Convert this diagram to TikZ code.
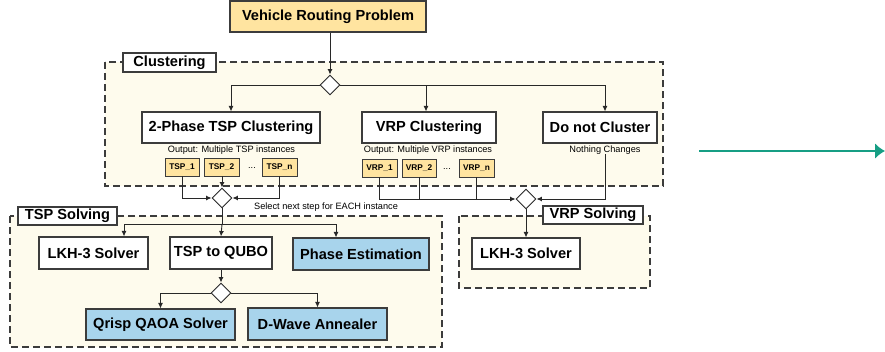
\documentclass[tikz,border=0pt]{standalone}
\usepackage{fontspec}
\setmainfont{Liberation Sans}
\usetikzlibrary{arrows.meta,calc,shapes.geometric}
\definecolor{boxline}{RGB}{60,60,60}
\definecolor{wireline}{RGB}{40,40,40}
\definecolor{vrpyellow}{RGB}{255,228,160}
\definecolor{qblue}{RGB}{168,212,236}
\definecolor{cream}{RGB}{254,251,237}
\definecolor{arrowteal}{RGB}{22,158,132}
\newcommand{\boxfont}{\fontsize{14.6}{17}\selectfont\bfseries}
\newcommand{\notefont}{\fontsize{9.2}{11}\selectfont}
\newcommand{\instfont}{\fontsize{8.3}{10}\selectfont\bfseries}
\tikzset{
  box/.style={draw=boxline, line width=1.1pt, fill=white, inner sep=0pt, minimum height=31pt, font=\boxfont},
  yelbox/.style={box, fill=vrpyellow},
  bluebox/.style={box, fill=qblue},
  tag/.style={draw=boxline, line width=1.1pt, fill=white, inner sep=0pt, minimum height=18pt, font=\boxfont},
  inst/.style={draw=boxline, line width=0.9pt, fill=vrpyellow, inner sep=0pt, minimum width=35pt, minimum height=18pt, font=\instfont},
  note/.style={inner sep=0pt, font=\notefont},
  region/.style={draw=boxline, line width=1.1pt, dash pattern=on 7pt off 4pt, fill=cream},
  choice/.style={diamond, draw=wireline, line width=0.9pt, fill=white, inner sep=0pt, minimum width=20pt, minimum height=20pt},
  wire/.style={draw=wireline, line width=0.9pt},
  >={Latex[length=5.5pt,width=5pt]}
}
\begin{document}
\begin{tikzpicture}[x=1pt,y=-1pt]
\useasboundingbox (0,0) rectangle (885,351);
\draw[region] (105,62) rectangle (663,186);
\draw[region] (10,216) rectangle (442,347);
\draw[region] (459,216) rectangle (650,288);

\node[yelbox, minimum width=196pt] (vrp) at (328,16.5) {Vehicle Routing Problem};
\node[tag, minimum width=93pt, minimum height=19pt] (cluslbl) at (169.5,62.5) {Clustering};
\node[choice] (d1) at (330,85) {};
\node[box, minimum width=178pt] (tspc) at (231,127.5) {2-Phase TSP Clustering};
\node[box, minimum width=134pt] (vrpc) at (429,127.5) {VRP Clustering};
\node[box, minimum width=114pt] (nocl) at (600,127.5) {Do not Cluster};
\node[note] (outtsp) at (231.5,150) {Output: Multiple TSP instances};
\node[note] (outvrp) at (428,150) {Output: Multiple VRP instances};
\node[note] (nochg) at (605,150) {Nothing Changes};
\node[inst, minimum width=34pt] (tsp1) at (182,167) {TSP\_1};
\node[inst] (tsp2) at (221.5,167) {TSP\_2};
\node[note] (tdots) at (252,168) {...};
\node[inst] (tspn) at (279.5,167) {TSP\_n};
\node[inst] (vrp1) at (379.5,168) {VRP\_1};
\node[inst, minimum width=34pt] (vrp2) at (419,168) {VRP\_2};
\node[note] (vdots) at (447,169) {...};
\node[inst] (vrpn) at (476.5,168) {VRP\_n};
\node[choice] (d2) at (222,198) {};
\node[choice] (d3) at (526,199) {};
\node[note, anchor=west] (sel) at (254,207) {Select next step for EACH instance};

\node[tag, minimum width=99pt] (tsplbl) at (67.5,216) {TSP Solving};
\node[tag, minimum width=100pt] (vrplbl) at (593,215) {VRP Solving};
\coordinate (f2) at (222,224);
\node[box, minimum width=109pt, minimum height=32pt] (lkh1) at (93.5,253) {LKH-3 Solver};
\node[box, minimum width=102pt, minimum height=32pt] (qubo) at (221,253) {TSP to QUBO};
\node[bluebox, minimum width=136pt, minimum height=32pt] (phase) at (361,254) {Phase Estimation};
\node[choice] (d4) at (221,293) {};
\node[bluebox, minimum width=149pt] (qaoa) at (160.5,324.5) {Qrisp QAOA Solver};
\node[bluebox, minimum width=139pt, minimum height=32pt] (dwave) at (317.5,324) {D-Wave Annealer};
\node[box, minimum width=108pt] (lkh2) at (526,253.5) {LKH-3 Solver};
\coordinate (ta) at (699,151);
\coordinate (tb) at (885,151);

\draw[wire,->] (vrp.south -| d1) -- (d1.north);
\draw[wire,->] (d1.west) -| (tspc.north);
\draw[wire,->] ([xshift=-3pt]vrpc.north |- d1) -- ([xshift=-3pt]vrpc.north);
\draw[wire,->] (d1.east) -| ([xshift=5pt]nocl.north);
\draw[wire,->] (tsp1.south) |- (d2.west);
\draw[wire,->] (tspn.south) |- (d2.east);
\draw[wire,->] (tsp2.south -| d2) -- (d2.north);
\draw[wire,->] (vrp1.south) |- (d3.west);
\draw[wire] (vrp2.south) -- (vrp2.south |- d3);
\draw[wire] (vrpn.south) -- (vrpn.south |- d3);
\draw[wire,->] (nochg.south) |- (d3.east);
\draw[wire] (d2.south) -- (f2);
\draw[wire,->] (f2) -| ([xshift=30.5pt]lkh1.north);
\draw[wire,->] (f2) -- (qubo.north);
\draw[wire,->] (f2) -| ([xshift=-25pt]phase.north);
\draw[wire,->] (qubo.south) -- (d4.north);
\draw[wire,->] (d4.west) -| (qaoa.north);
\draw[wire,->] (d4.east) -| (dwave.north);
\draw[wire,->] (d3.south) -- (lkh2.north);
\draw[line width=2pt, arrowteal, -{Latex[length=10pt,width=16pt]}] (ta) -- (tb);
\end{tikzpicture}
\end{document}
